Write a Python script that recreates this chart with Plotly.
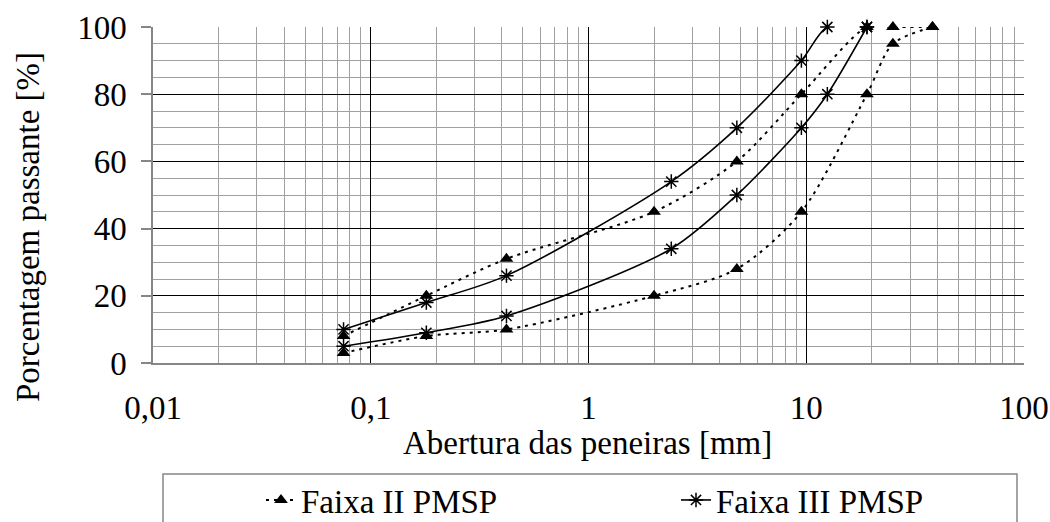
import plotly.graph_objects as go

# Sieve openings [mm]
sieves_ii = [0.075, 0.18, 0.42, 2.0, 4.8, 9.5, 19, 25, 38]
faixa_ii_upper = [8, 20, 31, 45, 60, 80, 100, 100, 100]
faixa_ii_lower = [3, 8, 10, 20, 28, 45, 80, 95, 100]

sieves_iii = [0.075, 0.18, 0.42, 2.4, 4.8, 9.5, 12.5, 19]
faixa_iii_upper = [10, 18, 26, 54, 70, 90, 100, 100]
faixa_iii_lower = [5, 9, 14, 34, 50, 70, 80, 100]

x_tick_vals = [0.01, 0.1, 1, 10, 100]
x_tick_text = ["0,01", "0,1", "1", "10", "100"]
y_tick_vals = [0, 20, 40, 60, 80, 100]

FONT = "Liberation Serif, Times New Roman, DejaVu Serif, serif"
FS = 33
W, H = 1050, 522
L, R, T, B = 153, 26, 27, 159
PW, PH = W - L - R, H - T - B


def px_x(p):
    return (p - L) / PW


def px_y(p):
    return (H - B - p) / PH


fig = go.Figure()

dash_style = dict(color="black", width=2, dash="3px,5px", shape="spline", smoothing=0.8)
solid_style = dict(color="black", width=1.6, shape="spline", smoothing=0.8)
tri = dict(symbol="triangle-up", size=12, color="black")
star = dict(symbol="asterisk-open", size=12, color="black", line=dict(color="black", width=1.5))

fig.add_trace(go.Scatter(x=sieves_ii, y=faixa_ii_upper, mode="lines+markers",
                         name="Faixa II PMSP", line=dash_style, marker=tri,
                         legendgroup="ii", showlegend=True, cliponaxis=False))
fig.add_trace(go.Scatter(x=sieves_ii, y=faixa_ii_lower, mode="lines+markers",
                         name="Faixa II PMSP", line=dash_style, marker=tri,
                         legendgroup="ii", showlegend=False, cliponaxis=False))
fig.add_trace(go.Scatter(x=sieves_iii, y=faixa_iii_upper, mode="lines+markers",
                         name="Faixa III PMSP", line=solid_style, marker=star,
                         legendgroup="iii", showlegend=True, cliponaxis=False))
fig.add_trace(go.Scatter(x=sieves_iii, y=faixa_iii_lower, mode="lines+markers",
                         name="Faixa III PMSP", line=solid_style, marker=star,
                         legendgroup="iii", showlegend=False, cliponaxis=False))

fig.update_xaxes(
    type="log", range=[-2, 2],
    tickvals=x_tick_vals, ticktext=x_tick_text,
    showgrid=True, gridcolor="#000000", gridwidth=1,
    minor=dict(dtick="D1", showgrid=True, gridcolor="#a0a0a0", gridwidth=1, ticks=""),
    showline=True, linecolor="#868686", linewidth=1.5, mirror=False,
    ticks="", ticklabelstandoff=15,
    tickfont=dict(family=FONT, size=FS, color="black"),
    zeroline=False,
)
fig.update_yaxes(
    range=[0, 100], tickvals=y_tick_vals,
    showgrid=True, gridcolor="#000000", gridwidth=1,
    minor=dict(dtick=5, showgrid=True, gridcolor="#a0a0a0", gridwidth=1, ticks=""),
    showline=True, linecolor="#868686", linewidth=1.5,
    ticks="outside", ticklen=10, tickcolor="#868686", tickwidth=1.5,
    ticklabelstandoff=8,
    tickfont=dict(family=FONT, size=FS, color="black"),
    zeroline=False,
)

fig.add_annotation(text="Abertura das peneiras [mm]", xref="paper", yref="paper",
                   x=px_x(587), y=px_y(443), showarrow=False,
                   font=dict(family=FONT, size=FS, color="black"),
                   xanchor="center", yanchor="middle")
fig.add_annotation(text="Porcentagem passante [%]", xref="paper", yref="paper",
                   x=px_x(28), y=px_y(227), showarrow=False, textangle=-90,
                   font=dict(family=FONT, size=FS, color="black"),
                   xanchor="center", yanchor="middle")

# legend frame
fig.add_shape(type="rect", xref="paper", yref="paper",
              x0=px_x(163), x1=px_x(1017), y0=px_y(474), y1=px_y(530),
              line=dict(color="#868686", width=1.5), fillcolor="rgba(0,0,0,0)")

fig.update_layout(
    width=W, height=H,
    margin=dict(l=L, r=R, t=T, b=B, autoexpand=False),
    paper_bgcolor="white", plot_bgcolor="white",
    showlegend=True,
    legend=dict(orientation="h", x=px_x(261), y=px_y(472), xanchor="left", yanchor="top",
                entrywidth=370, entrywidthmode="pixels",
                font=dict(family=FONT, size=FS, color="black"),
                bgcolor="rgba(0,0,0,0)", borderwidth=0, tracegroupgap=0),
)

fig.write_html("out.html")
